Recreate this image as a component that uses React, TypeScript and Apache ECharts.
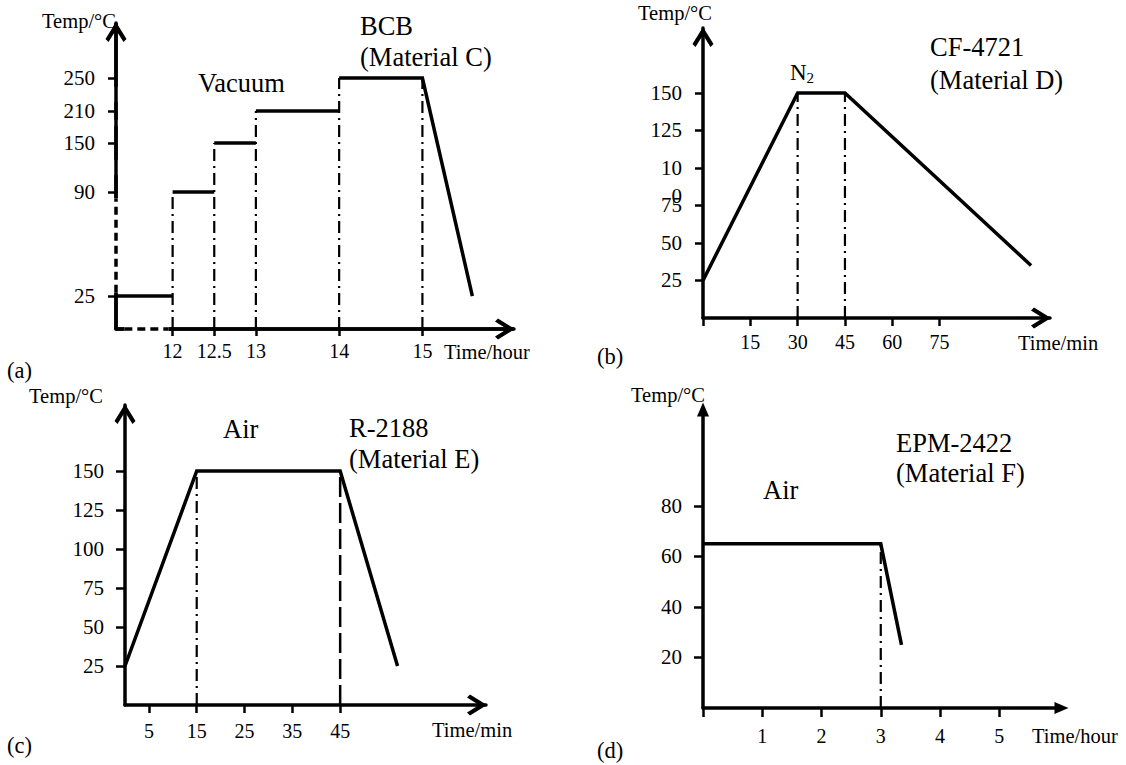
import React, { useEffect, useRef } from 'react';
import * as echarts from 'echarts';

// ---------- (a) BCB (Material C), vacuum, time in hours ----------
const aHoldStart = [0, 12, 12.5, 13, 14];
const aHoldEnd = [12, 12.5, 13, 14, 15];
const aHoldTemp = [25, 90, 150, 210, 250];
const aCoolTime = 15.6;
const aCoolTemp = 25;
const aGuideTime = [12, 12.5, 13, 14, 15];
const aGuideTemp = [90, 150, 210, 250, 250];
const aXTicks = [12, 12.5, 13, 14, 15];
const aYTicks = [25, 90, 150, 210, 250];
const aXMax = 16.1;
const aYMax = 284.4;
const aXBreakSpan = [0.1, 11.95]; // dashed (broken) part of the time axis
const aYBreakSpan = [27, 86]; // dashed (broken) part of the temperature axis

// ---------- (b) CF-4721 (Material D), N2, time in minutes ----------
const bTime = [0, 30, 45, 104];
const bTemp = [25, 150, 150, 35];
const bGuideTime = [30, 45];
const bGuideTemp = [150, 150];
const bXTicks = [0, 15, 30, 45, 60, 75];
const bXLabels = [15, 30, 45, 60, 75];
const bYTicks = [25, 50, 75, 100, 125, 150];

// ---------- (c) R-2188 (Material E), air, time in minutes ----------
const cTime = [0, 15, 45, 57];
const cTemp = [25, 150, 150, 25];
const cGuideTime = [15, 45];
const cGuideTemp = [150, 150];
const cXTicks = [5, 15, 25, 35, 45];
const cYTicks = [25, 50, 75, 100, 125, 150];

// ---------- (d) EPM-2422 (Material F), air, time in hours ----------
const dTime = [0, 3, 3.35];
const dTemp = [65, 65, 25];
const dGuideTime = [3];
const dGuideTemp = [65];
const dXTicks = [0, 1, 2, 3, 4, 5];
const dXLabels = [1, 2, 3, 4, 5];
const dYTicks = [20, 40, 60, 80];

const SERIF = "'Liberation Serif', 'Times New Roman', serif";
const CHEVRON = 'path://M10.5,0L21,17L18,20L10.5,8L3,20L0,17Z';

const chevronLine = {
  symbol: ['none', CHEVRON],
  symbolSize: [21, 20],
  symbolOffset: [0, -9],
};
const triangleLine = {
  symbol: ['none', 'triangle'],
  symbolSize: [12, 14],
  symbolOffset: [0, 0],
};

function axisOf(
  dim: 'x' | 'y',
  grid: number,
  min: number,
  max: number,
  ticks: number[],
  labels: number[],
  margin: number,
  arrow: any,
  tickLen: number,
  extra: any = {}
) {
  return {
    type: 'value',
    gridIndex: grid,
    min,
    max,
    position: dim === 'x' ? 'bottom' : 'left',
    axisLine: {
      show: true,
      onZero: false,
      lineStyle: { color: '#000', width: 3.5 },
      ...arrow,
    },
    axisTick: {
      show: true,
      inside: false,
      length: tickLen,
      lineStyle: { color: '#000', width: 2.5 },
      customValues: ticks,
    },
    axisLabel: {
      show: true,
      customValues: labels,
      color: '#000',
      fontFamily: SERIF,
      fontSize: dim === 'x' ? 20 : 21,
      margin,
      ...(extra.axisLabel || {}),
    },
    splitLine: { show: false },
    ...(extra.rest || {}),
  };
}

const pts = (xs: number[], ys: number[]) => xs.map((x, i) => [x, ys[i]]);

function lineSeries(grid: number, data: number[][], lineStyle: any) {
  return {
    type: 'line',
    xAxisIndex: grid,
    yAxisIndex: grid,
    data,
    symbol: 'none',
    silent: true,
    clip: false,
    animation: false,
    lineStyle: { color: '#000', width: 3.5, cap: 'butt', join: 'miter', ...lineStyle },
  };
}

const DASH_DOT = [12, 5, 2, 5];

function guides(grid: number, times: number[], temps: number[], type: any = DASH_DOT, width = 2.2) {
  return times.map((t, i) =>
    lineSeries(grid, [[t, 0], [t, temps[i]]], { type, width })
  );
}

const ANN = 26.5;
const AX = 20.5;
const PANEL = 22.5;
const annotations = [
  // (a)
  { text: 'Temp/°C', x: 42, y: 21, size: AX },
  { text: 'Vacuum', x: 198, y: 83, size: ANN },
  { text: 'BCB', x: 360, y: 26, size: ANN },
  { text: '(Material C)', x: 360, y: 57, size: ANN },
  { text: 'Time/hour', x: 444, y: 352, size: AX },
  { text: '(a)', x: 7, y: 370, size: PANEL },
  // (b)
  { text: 'Temp/°C', x: 638, y: 13, size: AX },
  { text: 'CF-4721', x: 930, y: 47, size: ANN },
  { text: '(Material D)', x: 930, y: 80, size: ANN },
  { text: 'Time/min', x: 1018, y: 343, size: AX },
  { text: '(b)', x: 597, y: 356, size: PANEL },
  // (c)
  { text: 'Temp/°C', x: 29, y: 396, size: AX },
  { text: 'Air', x: 223, y: 429, size: ANN },
  { text: 'R-2188', x: 349, y: 428, size: ANN },
  { text: '(Material E)', x: 349, y: 459, size: ANN },
  { text: 'Time/min', x: 432, y: 730, size: AX },
  { text: '(c)', x: 7, y: 745, size: PANEL },
  // (d)
  { text: 'Temp/°C', x: 631, y: 395, size: AX },
  { text: 'Air', x: 763, y: 490, size: ANN },
  { text: 'EPM-2422', x: 896, y: 443, size: ANN },
  { text: '(Material F)', x: 896, y: 473, size: ANN },
  { text: 'Time/hour', x: 1032, y: 736, size: AX },
  { text: '(d)', x: 597, y: 750, size: PANEL },
];

function buildOption() {
  const series: any[] = [];

  // (a) axis lines continued through the scale breaks, then the dashed broken parts
  series.push(lineSeries(0, [[0, 0], [0, aYMax]], {}));
  series.push(lineSeries(0, [[0, 0], [aXMax, 0]], {}));
  series.push(lineSeries(0, [[0, aYBreakSpan[0]], [0, aYBreakSpan[1]]], { color: '#fff', width: 7 }));
  series.push(lineSeries(0, [[aXBreakSpan[0], 0], [aXBreakSpan[1], 0]], { color: '#fff', width: 7 }));
  series.push(lineSeries(0, [[0, aYBreakSpan[0]], [0, aYBreakSpan[1]]], { type: [8, 5], width: 3.5 }));
  series.push(lineSeries(0, [[aXBreakSpan[0], 0], [aXBreakSpan[1], 0]], { type: [8, 5], width: 3.5 }));
  // (a) guides and holds
  series.push(...guides(0, aGuideTime, aGuideTemp));
  const lastIdx = aHoldTemp.length - 1;
  for (let i = 0; i < lastIdx; i++) {
    series.push(lineSeries(0, [[aHoldStart[i], aHoldTemp[i]], [aHoldEnd[i], aHoldTemp[i]]], {}));
  }
  series.push(
    lineSeries(
      0,
      [
        [aHoldStart[lastIdx], aHoldTemp[lastIdx]],
        [aHoldEnd[lastIdx], aHoldTemp[lastIdx]],
        [aCoolTime, aCoolTemp],
      ],
      {}
    )
  );

  // (b)
  series.push(...guides(1, bGuideTime, bGuideTemp));
  series.push(lineSeries(1, pts(bTime, bTemp), {}));
  // (c)
  series.push(...guides(2, [cGuideTime[0]], [cGuideTemp[0]]));
  series.push(...guides(2, [cGuideTime[1]], [cGuideTemp[1]], [20, 6], 2.5));
  series.push(lineSeries(2, pts(cTime, cTemp), {}));
  // (d)
  series.push(...guides(3, dGuideTime, dGuideTemp));
  series.push(lineSeries(3, pts(dTime, dTemp), {}));

  const graphic: any[] = annotations.map((a) => ({
    type: 'text',
    x: a.x,
    y: a.y,
    silent: true,
    style: {
      text: a.text,
      fontFamily: SERIF,
      fontSize: a.size,
      fill: '#000',
      align: 'left',
      verticalAlign: 'middle',
    },
  }));
  graphic.push({
    type: 'text',
    x: 790,
    y: 72,
    silent: true,
    style: {
      text: '{n|N}{s|2}',
      fill: '#000',
      align: 'left',
      verticalAlign: 'middle',
      rich: {
        n: { fontFamily: SERIF, fontSize: 23, fill: '#000' },
        s: { fontFamily: SERIF, fontSize: 15, fill: '#000', padding: [12, 0, 0, 0] },
      },
    },
  });

  return {
    animation: false,
    backgroundColor: '#fff',
    grid: [
      { left: 116, top: 23, width: 398, height: 306, outerBoundsMode: 'none' },
      { left: 703, top: 28, width: 347, height: 290, outerBoundsMode: 'none' },
      { left: 125, top: 405, width: 361, height: 300, outerBoundsMode: 'none' },
      { left: 703, top: 409.5, width: 358.5, height: 298.5, outerBoundsMode: 'none' },
    ],
    xAxis: [
      axisOf('x', 0, 0, aXMax, aXTicks, aXTicks, 12, chevronLine, 7, {
        rest: {
          breaks: [{ start: 0.2, end: 11.8, gap: 0.28 }],
          breakArea: { show: false },
        },
      }),
      axisOf('x', 1, 0, 110, bXTicks, bXLabels, 14, chevronLine, 8),
      axisOf('x', 2, 0, 75.5, cXTicks, cXTicks, 16, chevronLine, 8),
      axisOf('x', 3, 0, 6.05, dXTicks, dXLabels, 17.5, triangleLine, 9),
    ],
    yAxis: [
      axisOf('y', 0, 0, aYMax, aYTicks, aYTicks, 21, chevronLine, 8, {
        rest: {
          breaks: [
            { start: 10, end: 15, gap: 0.6 },
            { start: 100, end: 140, gap: 10.6 },
            { start: 160, end: 205, gap: 5 },
            { start: 215, end: 245, gap: 10.6 },
          ],
          breakArea: { show: false },
        },
      }),
      axisOf('y', 1, 0, 193.3, bYTicks, bYTicks, 21, chevronLine, 8, {
        axisLabel: {
          lineHeight: 28,
          formatter: (v: number) => (v === 100 ? '\n10\n0' : String(v)),
        },
      }),
      axisOf('y', 2, 0, 192.3, cYTicks, cYTicks, 21, chevronLine, 9),
      axisOf('y', 3, 0, 118.2, dYTicks, dYTicks, 21, triangleLine, 9),
    ],
    series,
    graphic,
  };
}

export default function App() {
  const ref = useRef<HTMLDivElement>(null);
  useEffect(() => {
    if (!ref.current) return;
    const chart = echarts.init(ref.current, undefined, { renderer: 'svg' });
    chart.setOption(buildOption() as any);
    return () => chart.dispose();
  }, []);
  return (
    <div
      ref={ref}
      style={{ position: 'fixed', left: 0, top: 0, width: 1126, height: 765, background: '#fff' }}
    />
  );
}
